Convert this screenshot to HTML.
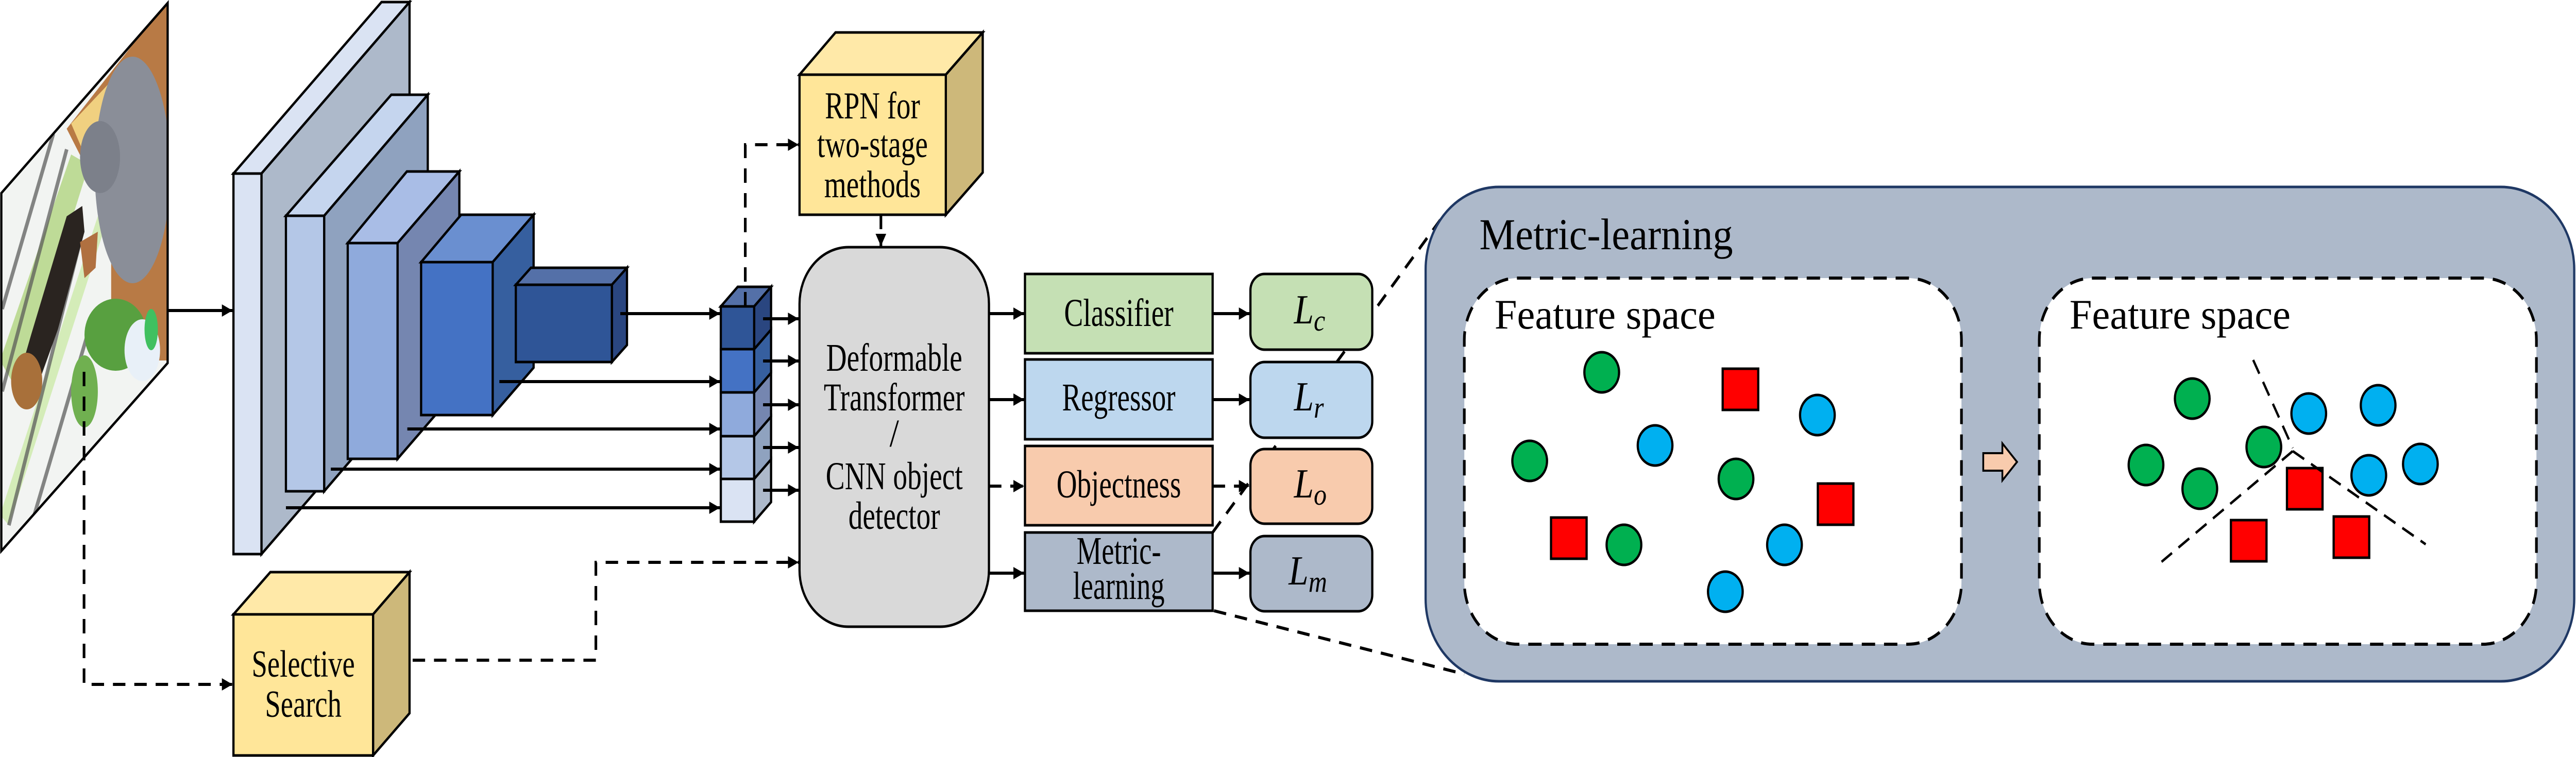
<!DOCTYPE html>
<html><head><meta charset="utf-8"><style>
html,body{margin:0;padding:0;background:#fff;width:100%;height:100%;overflow:hidden;}
svg{display:block;position:absolute;left:0;top:0;width:100vw;height:100vh;}
text{font-family:"Liberation Serif","Times New Roman","DejaVu Serif",serif;fill:#000;}
</style></head><body>
<svg viewBox="0 0 5793 1470" preserveAspectRatio="none" xmlns="http://www.w3.org/2000/svg" font-family="Liberation Serif, Times New Roman, DejaVu Serif, serif">
<defs>
<marker id="ah" viewBox="0 0 10 10" refX="10" refY="5" markerWidth="4.2" markerHeight="4" orient="auto" markerUnits="strokeWidth"><path d="M0,0 L10,5 L0,10 z" fill="#000"/></marker>
<clipPath id="photo"><polygon points="3,375 377,6 377,705 3,1070"/></clipPath>
</defs>

<g clip-path="url(#photo)">
<rect x="0" y="0" width="380" height="1080" fill="#f2f4f2"/>
<polygon points="0,700 160,300 200,320 40,760" fill="#a8d070" opacity="0.7"/>
<polygon points="0,1000 220,420 240,430 20,1020" fill="#c8e8a0" opacity="0.7"/>
<g stroke="#555" stroke-width="8" opacity="0.7">
<line x1="5" y1="600" x2="120" y2="260"/><line x1="5" y1="760" x2="150" y2="290"/>
<line x1="20" y1="1020" x2="180" y2="470"/><line x1="60" y1="1050" x2="200" y2="640"/>
</g>
<polygon points="150,250 377,0 377,700 250,700 250,420" fill="#b87a45"/>
<polygon points="160,240 280,130 290,180 190,300" fill="#f0d080"/>
<ellipse cx="298" cy="330" rx="85" ry="220" fill="#8a8e98"/>
<ellipse cx="225" cy="305" rx="45" ry="70" fill="#7c808a"/>
<polygon points="40,740 70,650 150,420 185,400 190,450 130,640 80,760" fill="#2a2420"/>
<ellipse cx="60" cy="740" rx="35" ry="55" fill="#a8703a"/>
<polygon points="180,470 220,450 215,520 190,540" fill="#b07040"/>
<ellipse cx="260" cy="650" rx="70" ry="70" fill="#58a040"/>
<ellipse cx="190" cy="760" rx="30" ry="70" fill="#70b050"/>
<ellipse cx="320" cy="680" rx="40" ry="60" fill="#e8f0f8"/>
<ellipse cx="340" cy="640" rx="15" ry="40" fill="#40c060"/>
</g>
<polygon points="3,375 377,6 377,705 3,1070" fill="none" stroke="#000" stroke-width="5"/>

<g stroke="#000" stroke-width="5" stroke-linejoin="miter">
<polygon points="525,337 858,4 921,4 588,337" fill="#dae3f3"/>
<polygon points="588,337 921,4 921,743 588,1076" fill="#adb9ca"/>
<rect x="525" y="337" width="63" height="739" fill="#dae3f3"/>
<polygon points="643,419 880,184 962,184 729,419" fill="#c5d5ee"/>
<polygon points="729,419 962,184 962,719 729,954" fill="#8fa2bf"/>
<rect x="643" y="419" width="86" height="535" fill="#b4c7e7"/>
<polygon points="782,472 915,333 1033,333 894,472" fill="#a9bde6"/>
<polygon points="894,472 1033,333 1033,752 894,891" fill="#7586b0"/>
<rect x="782" y="472" width="112" height="419" fill="#8faadc"/>
<polygon points="947,509 1037,417 1200,417 1108,509" fill="#6a8fd0"/>
<polygon points="1108,509 1200,417 1200,714 1108,806" fill="#365f9f"/>
<rect x="947" y="509" width="161" height="297" fill="#4472c4"/>
<polygon points="1160,553 1194,520 1410,520 1376,553" fill="#5470a8"/>
<polygon points="1376,553 1410,520 1410,670 1376,703" fill="#2a4680"/>
<rect x="1160" y="553" width="216" height="150" fill="#2f5597"/>
</g>

<g stroke="#000" stroke-width="6" fill="none" marker-end="url(#ah)">
<line x1="377" y1="603" x2="523" y2="603"/>
<line x1="1395" y1="609" x2="1619" y2="609"/>
<line x1="1123" y1="741" x2="1619" y2="741"/>
<line x1="916" y1="833" x2="1619" y2="833"/>
<line x1="744" y1="911" x2="1619" y2="911"/>
<line x1="643" y1="986" x2="1619" y2="986"/>
</g>

<g stroke="#000" stroke-width="5">
<polygon points="1621,595 1659,557 1734,557 1696,595" fill="#5470a8"/>
<polygon points="1696,930 1734,892 1734,975 1696,1013" fill="#adb9ca"/>
<rect x="1621" y="930" width="75" height="83" fill="#dae3f3"/>
<polygon points="1696,847 1734,809 1734,892 1696,930" fill="#8fa2bf"/>
<rect x="1621" y="847" width="75" height="83" fill="#b4c7e7"/>
<polygon points="1696,762 1734,724 1734,809 1696,847" fill="#7586b0"/>
<rect x="1621" y="762" width="75" height="85" fill="#8faadc"/>
<polygon points="1696,678 1734,640 1734,724 1696,762" fill="#365f9f"/>
<rect x="1621" y="678" width="75" height="84" fill="#4472c4"/>
<polygon points="1696,595 1734,557 1734,640 1696,678" fill="#2a4680"/>
<rect x="1621" y="595" width="75" height="83" fill="#2f5597"/>
</g>
<g stroke="#000" stroke-width="6" fill="none" marker-end="url(#ah)">
<line x1="1716" y1="619" x2="1796" y2="619"/>
<line x1="1716" y1="701" x2="1796" y2="701"/>
<line x1="1716" y1="786" x2="1796" y2="786"/>
<line x1="1716" y1="869" x2="1796" y2="869"/>
<line x1="1716" y1="952" x2="1796" y2="952"/>
</g>

<g stroke="#000" stroke-width="6" fill="none" stroke-dasharray="28,20">
<polyline points="1676,595 1676,281 1796,281" marker-end="url(#ah)"/>
<polyline points="1981,417 1981,478" marker-end="url(#ah)"/>
<polyline points="189,722 189,1329 523,1329" marker-end="url(#ah)"/>
<polyline points="880,1282 1340,1282 1340,1092 1796,1092" marker-end="url(#ah)"/>
<polyline points="2224,944 2303,944" marker-end="url(#ah)"/>
<polyline points="2727,944 2810,944" marker-end="url(#ah)"/>
<line x1="2727" y1="1034" x2="3239" y2="427"/>
<line x1="2730" y1="1186" x2="3293" y2="1309"/>
</g>

<g stroke="#000" stroke-width="5">
<polygon points="1798,145 1879,63 2210,63 2127,145" fill="#ffe9a8"/>
<polygon points="2127,145 2210,63 2210,335 2127,417" fill="#cdb87a"/>
<rect x="1798" y="145" width="329" height="272" fill="#ffe699"/>
</g>
<g font-size="74" text-anchor="middle">
<text x="1962" y="230" textLength="214" lengthAdjust="spacingAndGlyphs">RPN for</text>
<text x="1962" y="305" textLength="249" lengthAdjust="spacingAndGlyphs">two-stage</text>
<text x="1962" y="383" textLength="217" lengthAdjust="spacingAndGlyphs">methods</text>
</g>

<g stroke="#000" stroke-width="5">
<polygon points="525,1193 608,1111 921,1111 839,1193" fill="#ffe9a8"/>
<polygon points="839,1193 921,1111 921,1385 839,1467" fill="#cdb87a"/>
<rect x="525" y="1193" width="314" height="274" fill="#ffe699"/>
</g>
<g font-size="74" text-anchor="middle">
<text x="682" y="1314" textLength="232" lengthAdjust="spacingAndGlyphs">Selective</text>
<text x="682" y="1392" textLength="172" lengthAdjust="spacingAndGlyphs">Search</text>
</g>

<rect x="1798" y="480" width="426" height="737" rx="110" ry="110" fill="#d9d9d9" stroke="#000" stroke-width="5"/>
<g font-size="76" text-anchor="middle">
<text x="2011" y="720" textLength="306" lengthAdjust="spacingAndGlyphs">Deformable</text>
<text x="2011" y="797" textLength="317" lengthAdjust="spacingAndGlyphs">Transformer</text>
<text x="2011" y="867">/</text>
<text x="2011" y="950" textLength="308" lengthAdjust="spacingAndGlyphs">CNN object</text>
<text x="2011" y="1027" textLength="206" lengthAdjust="spacingAndGlyphs">detector</text>
</g>

<g stroke="#000" stroke-width="6" fill="none" marker-end="url(#ah)">
<line x1="2224" y1="609" x2="2303" y2="609"/>
<line x1="2224" y1="776" x2="2303" y2="776"/>
<line x1="2224" y1="1113" x2="2303" y2="1113"/>
<line x1="2727" y1="609" x2="2810" y2="609"/>
<line x1="2727" y1="776" x2="2810" y2="776"/>
<line x1="2727" y1="1113" x2="2810" y2="1113"/>
</g>

<g stroke="#000" stroke-width="5">
<rect x="2305" y="532" width="422" height="154" fill="#c5e0b4"/>
<rect x="2305" y="698" width="422" height="155" fill="#bdd7ee"/>
<rect x="2305" y="866" width="422" height="154" fill="#f8cbad"/>
<rect x="2305" y="1034" width="422" height="152" fill="#adb9ca"/>
</g>
<g font-size="76" text-anchor="middle">
<text x="2516" y="633" textLength="246" lengthAdjust="spacingAndGlyphs">Classifier</text>
<text x="2516" y="797" textLength="255" lengthAdjust="spacingAndGlyphs">Regressor</text>
<text x="2516" y="966" textLength="280" lengthAdjust="spacingAndGlyphs">Objectness</text>
<text x="2516" y="1095" textLength="190" lengthAdjust="spacingAndGlyphs">Metric-</text>
<text x="2516" y="1163" textLength="206" lengthAdjust="spacingAndGlyphs">learning</text>
</g>

<g stroke="#000" stroke-width="5">
<rect x="2812" y="532" width="274" height="147" rx="32" fill="#c5e0b4"/>
<rect x="2812" y="703" width="274" height="147" rx="32" fill="#bdd7ee"/>
<rect x="2812" y="872" width="274" height="145" rx="32" fill="#f8cbad"/>
<rect x="2812" y="1041" width="274" height="146" rx="32" fill="#adb9ca"/>
</g>
<g font-size="80" font-style="italic">
<text x="2910" y="628">L<tspan font-size="58" dy="14">c</tspan></text>
<text x="2910" y="797">L<tspan font-size="58" dy="14">r</tspan></text>
<text x="2910" y="966">L<tspan font-size="58" dy="14">o</tspan></text>
<text x="2898" y="1135">L<tspan font-size="58" dy="14">m</tspan></text>
</g>

<rect x="3206" y="363" width="2583" height="960" rx="165" ry="160" fill="#adb9ca" stroke="#1f3864" stroke-width="5"/>
<text x="3327" y="484" font-size="86" textLength="570" lengthAdjust="spacingAndGlyphs">Metric-learning</text>
<g fill="#fff" stroke="#000" stroke-width="6" stroke-dasharray="30,20">
<rect x="3293" y="540" width="1118" height="711" rx="120" ry="120"/>
<rect x="4586" y="540" width="1118" height="711" rx="120" ry="120"/>
</g>
<text x="3361" y="638" font-size="82" textLength="497" lengthAdjust="spacingAndGlyphs">Feature space</text>
<text x="4654" y="638" font-size="82" textLength="497" lengthAdjust="spacingAndGlyphs">Feature space</text>
<polygon points="4460,880 4503,880 4503,861 4536,897 4503,933 4503,914 4460,914" fill="#f8cbad" stroke="#000" stroke-width="4"/>

<g stroke="#000" stroke-width="5">
<g fill="#00b050">
<circle cx="3602" cy="723" r="39"/><circle cx="3440" cy="895" r="39"/><circle cx="3904" cy="930" r="39"/><circle cx="3652" cy="1058" r="39"/>
<circle cx="4930" cy="774" r="39"/><circle cx="5091" cy="868" r="39"/><circle cx="4826" cy="903" r="39"/><circle cx="4947" cy="949" r="39"/>
</g>
<g fill="#00b0f0">
<circle cx="4087" cy="806" r="39"/><circle cx="3722" cy="865" r="39"/><circle cx="4013" cy="1058" r="39"/><circle cx="3880" cy="1149" r="39"/>
<circle cx="5192" cy="803" r="39"/><circle cx="5348" cy="787" r="39"/><circle cx="5327" cy="923" r="39"/><circle cx="5443" cy="901" r="39"/>
</g>
<g fill="#ff0000">
<rect x="3874" y="716" width="80" height="80"/><rect x="4088" y="939" width="80" height="80"/><rect x="3488" y="1005" width="80" height="80"/>
<rect x="5143" y="909" width="80" height="80"/><rect x="5017" y="1010" width="80" height="80"/><rect x="5248" y="1003" width="80" height="80"/>
</g>
</g>
<g stroke="#000" stroke-width="5" stroke-dasharray="30,18" fill="none">
<line x1="5067" y1="699" x2="5156" y2="870"/>
<line x1="5156" y1="876" x2="4861" y2="1091"/>
<line x1="5156" y1="876" x2="5455" y2="1057"/>
</g>
</svg>
</body></html>
